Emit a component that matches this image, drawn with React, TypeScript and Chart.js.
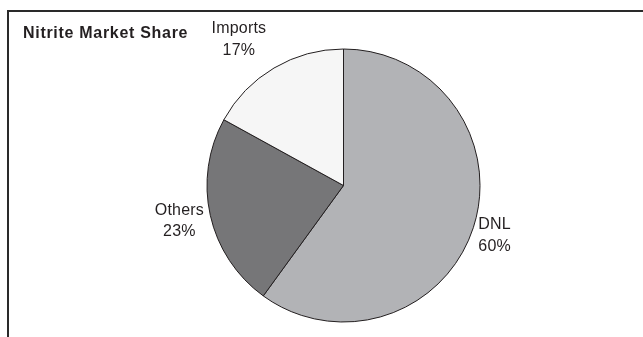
import React, { useEffect, useRef } from "react";
import { Chart, registerables } from "chart.js";

Chart.register(...registerables);

const categories = ["DNL", "Others", "Imports"];
const shares = [60, 23, 17];
const shareLabels = ["60%", "23%", "17%"];
const chartTitle = "Nitrite Market Share";

const TEXT = "#231f20";
const FONT = '"Liberation Sans", Arial, Helvetica, sans-serif';

const framePlugin = {
  id: "frameAndLabels",
  beforeDraw(chart: any) {
    const ctx = chart.ctx as CanvasRenderingContext2D;
    ctx.save();
    ctx.fillStyle = "#ffffff";
    ctx.fillRect(0, 0, chart.width, chart.height);
    ctx.strokeStyle = "#2a2a2a";
    ctx.lineWidth = 2;
    ctx.beginPath();
    ctx.moveTo(8, chart.height);
    ctx.lineTo(8, 11);
    ctx.lineTo(chart.width, 11);
    ctx.stroke();
    ctx.restore();
  },
  afterDraw(chart: any, _args: any, opts: any) {
    const ctx = chart.ctx as CanvasRenderingContext2D;
    ctx.save();
    // title
    ctx.fillStyle = TEXT;
    ctx.font = `bold 16px ${FONT}`;
    (ctx as any).letterSpacing = "0.7px";
    ctx.textAlign = "left";
    ctx.textBaseline = "alphabetic";
    ctx.fillText(chartTitle, 23, 38);
    (ctx as any).letterSpacing = "0px";

    // slice labels
    const meta = chart.getDatasetMeta(0);
    const gaps: number[] = opts.gaps || [];
    const shifts: number[] = opts.shiftX || [];
    const lineH = 21.5;
    const capH = 11.5;
    ctx.font = `16px ${FONT}`;
    (ctx as any).letterSpacing = "0.2px";
    ctx.textAlign = "center";
    meta.data.forEach((arc: any, i: number) => {
      const p = arc.getProps(["x", "y", "startAngle", "endAngle", "outerRadius"], true);
      const mid = (p.startAngle + p.endAngle) / 2;
      const dx = Math.cos(mid);
      const dy = Math.sin(mid);
      const lines = [categories[i], shareLabels[i]];
      const w = Math.max(...lines.map((l) => ctx.measureText(l).width));
      const h = lineH + capH;
      const rr = p.outerRadius + (gaps[i] ?? 3);
      const cx = p.x + dx * rr + (dx * w) / 2 + (shifts[i] ?? 0);
      const cy = p.y + dy * rr + (dy * h) / 2;
      const base1 = cy - h / 2 + capH;
      lines.forEach((l, k) => ctx.fillText(l, cx, base1 + k * lineH));
    });
    ctx.restore();
  },
};

export default function App() {
  const ref = useRef<HTMLCanvasElement>(null);
  useEffect(() => {
    const canvas = ref.current;
    if (!canvas) return;
    const chart = new Chart(canvas, {
      type: "pie",
      data: {
        labels: categories,
        datasets: [
          {
            data: shares,
            backgroundColor: ["#b2b3b6", "#767678", "#f6f6f6"],
            borderColor: "#231f20",
            borderWidth: 1,
            borderAlign: "center",
          },
        ],
      },
      options: {
        responsive: false,
        animation: false,
        devicePixelRatio: 1,
        layout: { padding: { top: 48.5, bottom: 14.5, left: 200, right: 156 } },
        plugins: {
          legend: { display: false },
          title: { display: false },
          tooltip: { enabled: false },
          frameAndLabels: { gaps: [4, 5, 18], shiftX: [2, -2, -12] },
        } as any,
      },
      plugins: [framePlugin],
    });
    return () => chart.destroy();
  }, []);
  return (
    <div style={{ position: "fixed", left: 0, top: 0, width: 643, height: 337, background: "#fff" }}>
      <canvas ref={ref} width={643} height={337} style={{ display: "block", width: 643, height: 337 }} />
    </div>
  );
}
